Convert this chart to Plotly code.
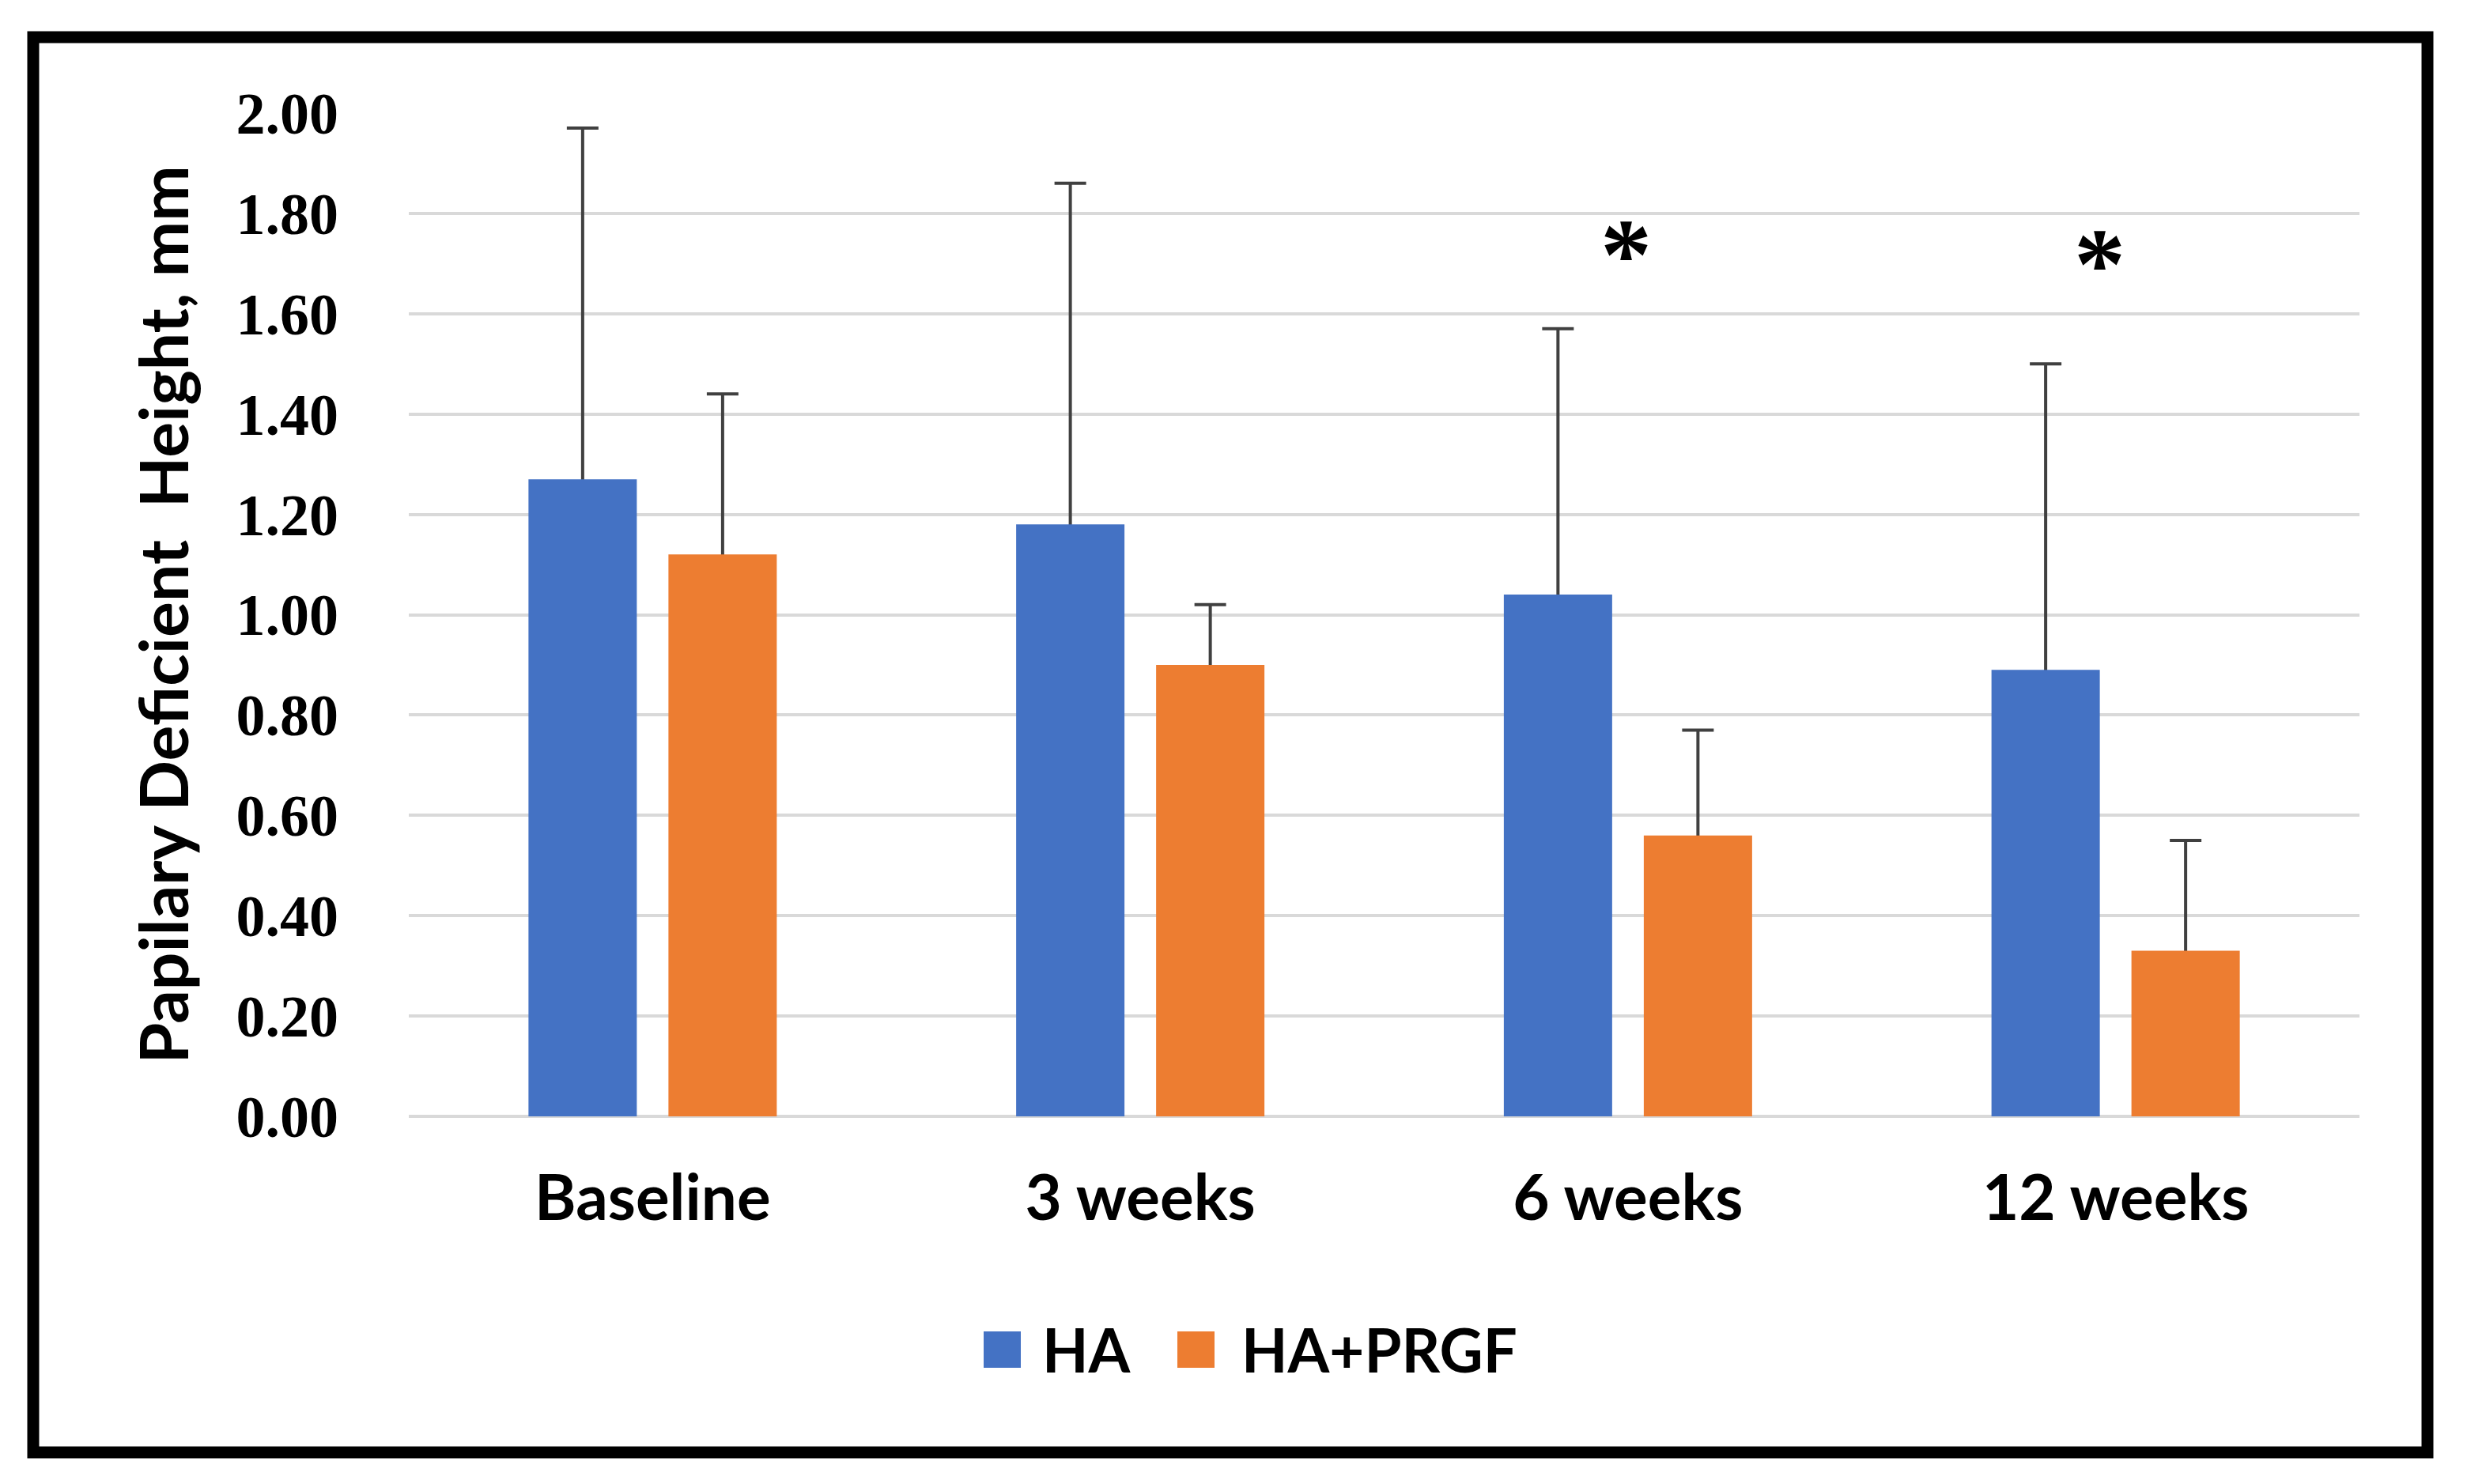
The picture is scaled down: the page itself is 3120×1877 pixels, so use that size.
import plotly.graph_objects as go

# ---------------- data ----------------
categories = ["Baseline", "3 weeks", "6 weeks", "12 weeks"]
series_names = ["HA", "HA+PRGF"]
ha_mean = [1.27, 1.18, 1.04, 0.89]
ha_sd = [0.70, 0.68, 0.53, 0.61]
prgf_mean = [1.12, 0.90, 0.56, 0.33]
prgf_sd = [0.32, 0.12, 0.21, 0.22]
sig_categories = ["6 weeks", "12 weeks"]
sig_labels = ["*", "*"]
sig_heights = [1.75, 1.73]
y_tick_values = [0.0, 0.2, 0.4, 0.6, 0.8, 1.0, 1.2, 1.4, 1.6, 1.8, 2.0]
y_title = "Papilary Deficient\u00a0 Height, mm"

# ---------------- style / layout geometry ----------------
BLUE = "#4472C4"
ORANGE = "#ED7D31"
OFF = 8                      # page body margin offset
W, H = 3120 - OFF, 1877 - OFF
L, T = 517 - OFF, 143 - OFF
R = W - (2984 - OFF)
B = H - (1412 - OFF)
PW, PH = W - L - R, H - T - B


def px_x(x):
    return (x - OFF - L) / PW


def px_y(y):
    return (H - B - (y - OFF)) / PH


fig = go.Figure()

# error-bar carriers (drawn first, so the visible bars hide the lower half)
for name, mean, sd in [(series_names[0], ha_mean, ha_sd),
                       (series_names[1], prgf_mean, prgf_sd)]:
    fig.add_trace(
        go.Bar(
            x=categories, y=mean, offsetgroup=name, name=name + " SD",
            marker=dict(color="rgba(0,0,0,0)", line=dict(width=0)),
            error_y=dict(type="data", array=sd, symmetric=True,
                         color="#404040", thickness=4, width=20),
            showlegend=False, hoverinfo="skip",
        )
    )

# visible bars
for name, mean, color in [(series_names[0], ha_mean, BLUE),
                          (series_names[1], prgf_mean, ORANGE)]:
    fig.add_trace(
        go.Bar(
            x=categories, y=mean, offsetgroup=name, name=name,
            marker=dict(color=color, line=dict(width=0)),
            showlegend=False,
        )
    )

# significance asterisks
sig_shift = {"6 weeks": -2, "12 weeks": -20}
for cat, lab, hgt in zip(sig_categories, sig_labels, sig_heights):
    fig.add_annotation(
        x=cat, y=hgt, text=lab, showarrow=False,
        xshift=sig_shift[cat], yshift=-20,
        font=dict(family="Liberation Serif", size=130, color="black", weight="bold"),
    )

# custom legend (large square swatches)
legend_items = [
    (series_names[0], BLUE, 1244, 1316),
    (series_names[1], ORANGE, 1489, 1568),
]
for name, color, sx, tx in legend_items:
    fig.add_shape(
        type="rect", xref="paper", yref="paper",
        x0=px_x(sx), x1=px_x(sx + 47), y0=px_y(1684), y1=px_y(1730),
        fillcolor=color, line=dict(width=0),
    )
    fig.add_annotation(
        xref="paper", yref="paper", x=px_x(tx), y=px_y(1706),
        xanchor="left", yanchor="middle", text=name, showarrow=False,
        font=dict(family="Lato", size=76, color="black", weight="bold"),
    )

# outer frame
fig.add_shape(
    type="rect", xref="paper", yref="paper", layer="above",
    x0=px_x(42), x1=px_x(3070), y0=px_y(47), y1=px_y(1837),
    line=dict(color="black", width=15), fillcolor="rgba(0,0,0,0)",
)

fig.update_layout(
    width=W, height=H,
    margin=dict(l=L, r=R, t=T, b=B, pad=0),
    paper_bgcolor="white", plot_bgcolor="white",
    barmode="group", bargap=0.426, bargroupgap=0.226,
    showlegend=False,
    font=dict(family="Lato", color="black"),
)
fig.update_xaxes(
    showgrid=False, showline=False, zeroline=False, ticks="",
    tickfont=dict(family="Lato", size=80, color="black", weight="bold"),
    ticklabelstandoff=50,
)
fig.update_yaxes(
    range=[0, 2.0], tickvals=y_tick_values, tickformat=".2f",
    showgrid=True, gridcolor="#D9D9D9", gridwidth=4,
    zeroline=True, zerolinecolor="#D9D9D9", zerolinewidth=4,
    showline=False, ticks="",
    tickfont=dict(family="Liberation Serif", size=74, color="black", weight="bold"),
    ticklabelstandoff=88,
    title=dict(text=y_title, standoff=32,
               font=dict(family="Lato", size=84, color="black", weight="bold")),
)

fig.write_html("out.html")
